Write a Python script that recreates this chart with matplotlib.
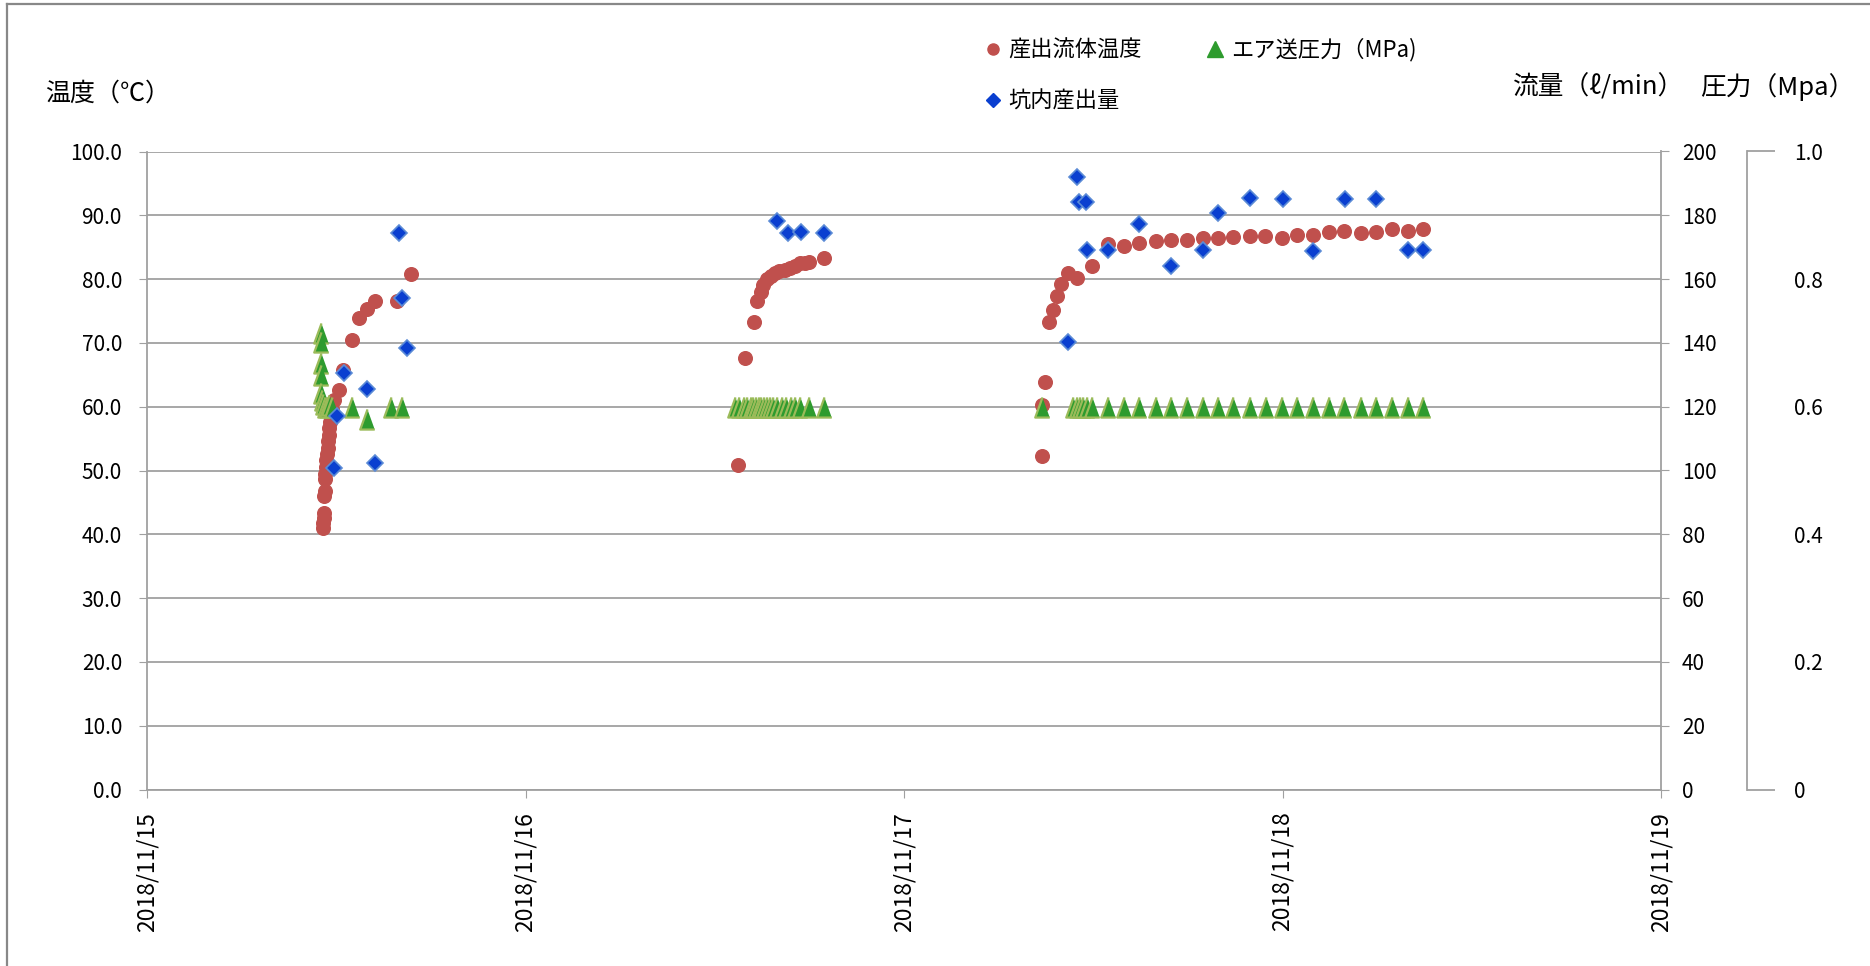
import numpy as np
import matplotlib
matplotlib.use("Agg")
import matplotlib.pyplot as plt
from matplotlib.lines import Line2D

plt.rcParams['font.family'] = ['Noto Sans CJK JP', 'DejaVu Sans']

# 時刻は 2018/11/15 0:00 からの経過日数
date_labels = ['2018/11/15', '2018/11/16', '2018/11/17', '2018/11/18', '2018/11/19']

# 産出流体温度 (℃)
temp_t = [0.466, 0.466, 0.467, 0.467, 0.468, 0.469, 0.470, 0.471, 0.472, 0.474,
          0.475, 0.477, 0.478, 0.480, 0.482, 0.484, 0.487, 0.490, 0.494, 0.507,
          0.519, 0.541, 0.561, 0.582, 0.602, 0.661, 0.698,
          1.562, 1.580, 1.604, 1.612, 1.621, 1.628, 1.637, 1.648, 1.659, 1.671,
          1.686, 1.699, 1.712, 1.725, 1.739, 1.750, 1.789,
          2.364, 2.364, 2.372, 2.383, 2.394, 2.405, 2.414, 2.434, 2.458, 2.498,
          2.538, 2.582, 2.622, 2.665, 2.705, 2.747, 2.789, 2.830, 2.870, 2.914,
          2.954, 2.998, 3.039, 3.080, 3.123, 3.163, 3.207, 3.247, 3.289, 3.331, 3.372]
temp_v = [41.0, 41.8, 42.6, 43.3, 46.0, 46.8, 48.6, 49.5, 50.6, 51.6,
          52.6, 53.6, 54.6, 55.6, 56.6, 57.6, 58.6, 59.6, 61.0, 62.6,
          65.7, 70.5, 73.9, 75.3, 76.6, 76.5, 80.8,
          50.9, 67.7, 73.2, 76.6, 78.0, 79.1, 80.0, 80.5, 80.9, 81.2,
          81.4, 81.7, 82.1, 82.5, 82.6, 82.7, 83.3,
          52.3, 60.2, 63.9, 73.2, 75.2, 77.4, 79.2, 80.9, 80.2, 82.1,
          85.5, 85.2, 85.7, 85.9, 86.2, 86.1, 86.5, 86.4, 86.6, 86.8,
          86.8, 86.5, 86.9, 86.9, 87.4, 87.5, 87.3, 87.4, 87.8, 87.5, 87.8]

# エア送圧力 (MPa)
air_t = [0.459, 0.459, 0.459, 0.459, 0.459, 0.462, 0.466, 0.471, 0.476, 0.482,
         0.488, 0.541, 0.582, 0.645, 0.673,
         1.554, 1.565, 1.576, 1.586, 1.595, 1.602, 1.609, 1.616, 1.623, 1.630,
         1.637, 1.646, 1.655, 1.665, 1.677, 1.688, 1.701, 1.712, 1.725, 1.750, 1.789,
         2.364, 2.447, 2.456, 2.465, 2.474, 2.483, 2.498, 2.538, 2.582, 2.622,
         2.665, 2.705, 2.747, 2.789, 2.830, 2.870, 2.914, 2.956, 2.998, 3.039,
         3.080, 3.123, 3.163, 3.207, 3.247, 3.289, 3.331, 3.372]
air_v = [0.715, 0.702, 0.669, 0.650, 0.621, 0.610, 0.605, 0.600, 0.600, 0.602,
         0.600, 0.600, 0.581, 0.600, 0.600,
         0.60, 0.60, 0.60, 0.60, 0.60, 0.60, 0.60, 0.60, 0.60, 0.60,
         0.60, 0.60, 0.60, 0.60, 0.60, 0.60, 0.60, 0.60, 0.60, 0.60, 0.60,
         0.60, 0.60, 0.60, 0.60, 0.60, 0.60, 0.60, 0.60, 0.60, 0.60,
         0.60, 0.60, 0.60, 0.60, 0.60, 0.60, 0.60, 0.60, 0.60, 0.60,
         0.60, 0.60, 0.60, 0.60, 0.60, 0.60, 0.60, 0.60]

# 坑内産出量 (l/min)
flow_t = [0.495, 0.501, 0.521, 0.582, 0.602, 0.667, 0.675, 0.686,
          1.664, 1.693, 1.727, 1.789,
          2.434, 2.458, 2.463, 2.480, 2.483, 2.538, 2.622, 2.705, 2.789, 2.830,
          2.914, 3.000, 3.080, 3.165, 3.247, 3.331, 3.372]
flow_v = [100.7, 117.0, 130.5, 125.4, 102.4, 174.4, 154.2, 138.3,
          178.3, 174.4, 174.9, 174.4,
          140.2, 192.1, 184.2, 184.2, 169.1, 169.1, 177.3, 164.1, 169.1, 180.6,
          185.3, 185.1, 168.9, 185.1, 185.1, 169.0, 169.0]

temp_ticks = np.arange(0, 101, 10)
flow_ticks = np.arange(0, 201, 20)
press_ticks = [0, 0.2, 0.4, 0.6, 0.8, 1.0]
press_labels = ['0', '0.2', '0.4', '0.6', '0.8', '1.0']

W, H = 1870, 966
fig = plt.figure(figsize=(W / 100, H / 100), dpi=100)
ax = fig.add_axes([147 / W, 1 - 789.5 / H, 1514 / W, 638 / H])

grey = '#A0A0A0'
red = '#C0504D'
tri = np.array([[0, 1], [-0.72, -1], [0.72, -1]])

# 温度軸
ax.plot(temp_t, temp_v, ls='none', marker='o', ms=9.8, color=red, mec=red, zorder=3)
ax.set_xlim(0, 4)
ax.set_ylim(0, 100)
ax.set_yticks(temp_ticks)
ax.set_yticklabels([f'{v:.1f}' for v in temp_ticks])
ax.set_xticks(range(len(date_labels)))
ax.set_xticklabels(date_labels, rotation=90, fontsize=16.5)
ax.grid(axis='y', color=grey, lw=1.3)
ax.set_axisbelow(True)
ax.tick_params(axis='y', length=6, color=grey, pad=12, labelsize=15)
ax.tick_params(axis='x', length=6, color=grey, pad=10)
for s in ['top', 'right']:
    ax.spines[s].set_visible(False)
for s in ['left', 'bottom']:
    ax.spines[s].set_color(grey)
    ax.spines[s].set_linewidth(1.3)

# 圧力軸 (外側)
ax3 = ax.twinx()
ax3.plot(air_t, air_v, ls='none', marker=tri, ms=14.5, color='#2E9B2E',
         mec='#9BBB59', mew=1.6)
ax3.set_ylim(0, 1)
ax3.spines['right'].set_position(('outward', 62))
ax3.spines['right'].set_color(grey)
ax3.spines['right'].set_linewidth(1.3)
for s in ['top', 'left', 'bottom']:
    ax3.spines[s].set_visible(False)
ax3.yaxis.remove_overlapping_locs = False
ax3.set_yticks(press_ticks)
ax3.set_yticklabels(press_labels)
ax3.set_yticks([0, 1], minor=True)
ax3.tick_params(axis='y', which='major', length=0, pad=34, labelsize=15)
ax3.tick_params(axis='y', which='minor', length=20, color=grey, width=1.3)

# 流量軸
ax2 = ax.twinx()
ax2.plot(flow_t, flow_v, ls='none', marker='D', ms=8.3, color='#0A3FD0',
         mec='#5B8BD6', mew=1.2)
ax2.set_ylim(0, 200)
ax2.set_yticks(flow_ticks)
ax2.tick_params(axis='y', length=6, color=grey, pad=9, labelsize=15)
ax2.spines['right'].set_color(grey)
ax2.spines['right'].set_linewidth(1.3)
for s in ['top', 'left', 'bottom']:
    ax2.spines[s].set_visible(False)

# 軸タイトル
fig.text(45 / W, 1 - 94 / H, '温度（℃）', fontsize=18, va='center', ha='left')
fig.text(1513 / W, 1 - 87 / H, '流量（ℓ/min）', fontsize=18.5, va='center', ha='left')
fig.text(1700 / W, 1 - 87 / H, '圧力（Mpa）', fontsize=18.5, va='center', ha='left')

# 凡例
handles = [
    Line2D([], [], ls='none', marker='o', ms=8, color=red),
    Line2D([], [], ls='none', marker='D', ms=7, color='#0A3FD0'),
    Line2D([], [], ls='none', marker='^', ms=11, color='#2E9B2E'),
]
labels = ['産出流体温度', '坑内産出量', 'エア送圧力（MPa)']
fig.legend(handles, labels, loc='upper left', bbox_to_anchor=(984 / W, 1 - 38 / H),
           ncol=2, frameon=False, fontsize=16, handlelength=0.8, handletextpad=0.3,
           columnspacing=2.9, labelspacing=1.25, borderpad=0, borderaxespad=0)

# 外枠 (上・左)
fig.add_artist(Line2D([7 / W, 7 / W], [0, 1 - 4 / H], color='#888888', lw=1.6))
fig.add_artist(Line2D([7 / W, 1], [1 - 4 / H, 1 - 4 / H], color='#888888', lw=1.6))

fig.savefig('out.png', dpi=100)
